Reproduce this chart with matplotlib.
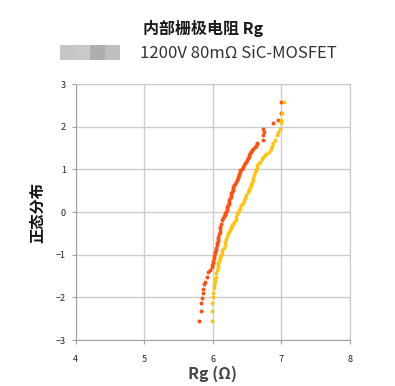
import matplotlib
matplotlib.use("Agg")
import matplotlib.pyplot as plt
from matplotlib.patches import Rectangle

plt.rcParams['font.family'] = ['Noto Sans CJK SC', 'DejaVu Sans']

# 正态概率图数据
orange_x = [5.80, 5.83, 5.83, 5.84, 5.85, 5.86, 5.87, 5.89, 5.91, 5.93, 5.96,
            5.98, 5.99, 6.00, 6.005, 6.01, 6.02, 6.03, 6.035, 6.04, 6.05, 6.06, 6.065,
            6.07, 6.075, 6.08, 6.09, 6.10, 6.105, 6.11, 6.125, 6.14, 6.15, 6.16, 6.17,
            6.18, 6.19, 6.20, 6.205, 6.21, 6.22, 6.23, 6.235, 6.24, 6.25, 6.26, 6.265,
            6.27, 6.28, 6.29, 6.295, 6.30, 6.31, 6.32, 6.335, 6.35, 6.36, 6.37, 6.375,
            6.38, 6.39, 6.40, 6.42, 6.44, 6.455, 6.47, 6.485, 6.50, 6.51, 6.52, 6.53,
            6.54, 6.555, 6.57, 6.59, 6.61, 6.625, 6.64, 6.65,
            6.73, 6.73, 6.74, 6.73, 6.87, 6.95, 6.99, 6.99]
orange_y = [-2.55, -2.32, -2.14, -2.02, -1.90, -1.81, -1.69, -1.63, -1.52, -1.40, -1.36,
            -1.28, -1.24, -1.20, -1.14, -1.08, -1.02, -0.97, -0.93, -0.89, -0.84, -0.78, -0.73,
            -0.68, -0.63, -0.58, -0.52, -0.46, -0.40, -0.34, -0.27, -0.19, -0.14, -0.10, -0.06,
            -0.03, 0.01, 0.05, 0.09, 0.12, 0.16, 0.20, 0.24, 0.28, 0.32, 0.36, 0.40,
            0.44, 0.48, 0.52, 0.55, 0.59, 0.63, 0.67, 0.71, 0.75, 0.79, 0.83, 0.87,
            0.90, 0.94, 0.98, 1.02, 1.06, 1.10, 1.14, 1.18, 1.22, 1.26, 1.30, 1.34,
            1.38, 1.42, 1.45, 1.49, 1.53, 1.56, 1.59, 1.62,
            1.70, 1.80, 1.88, 1.96, 2.08, 2.17, 2.33, 2.58]

yellow_x = [5.99, 5.99, 5.99, 6.00, 6.00, 6.01, 6.02, 6.03, 6.035, 6.04, 6.05, 6.06,
            6.07, 6.075, 6.08, 6.09, 6.10, 6.11, 6.12, 6.13, 6.14, 6.155, 6.17, 6.18,
            6.19, 6.205, 6.22, 6.235, 6.25, 6.26, 6.27, 6.285, 6.30, 6.315, 6.33, 6.34,
            6.35, 6.365, 6.38, 6.395, 6.41, 6.435, 6.46, 6.475, 6.49, 6.505, 6.52, 6.53,
            6.54, 6.55, 6.56, 6.57, 6.58, 6.59, 6.60, 6.615, 6.63, 6.64, 6.65, 6.67,
            6.69, 6.71, 6.73, 6.755, 6.78, 6.82, 6.85, 6.865, 6.88, 6.91, 6.94, 6.95,
            6.98, 6.99, 7.00, 7.01, 7.04]
yellow_y = [-2.55, -2.32, -2.14, -1.98, -1.90, -1.79, -1.70, -1.63, -1.57, -1.51, -1.43, -1.36,
            -1.28, -1.24, -1.20, -1.15, -1.10, -1.05, -1.01, -0.95, -0.89, -0.83, -0.77, -0.70,
            -0.62, -0.56, -0.50, -0.46, -0.42, -0.38, -0.34, -0.30, -0.27, -0.23, -0.19, -0.12,
            -0.05, 0.00, 0.05, 0.10, 0.16, 0.22, 0.28, 0.34, 0.40, 0.46, 0.52, 0.55,
            0.59, 0.63, 0.67, 0.71, 0.75, 0.81, 0.87, 0.93, 0.98, 1.04, 1.10, 1.14,
            1.18, 1.24, 1.30, 1.34, 1.37, 1.41, 1.49, 1.55, 1.61, 1.70, 1.80, 1.88,
            1.96, 2.08, 2.17, 2.33, 2.58]

x_ticks = [4, 5, 6, 7, 8]
y_ticks = [-3, -2, -1, 0, 1, 2, 3]

fig = plt.figure(figsize=(3.95, 3.86), dpi=100)
ax = fig.add_axes([0.192, 0.119, 0.694, 0.663])

ax.scatter(orange_x, orange_y, s=8, color='#ff5010', linewidths=0, zorder=3)
ax.scatter(yellow_x, yellow_y, s=8, color='#ffc40c', linewidths=0, zorder=3)

ax.set_xlim(4, 8)
ax.set_ylim(-3, 3)
ax.set_xticks(x_ticks)
ax.set_yticks(y_ticks)
ax.grid(True, color='#cccccc', linewidth=1)
ax.set_axisbelow(True)
for s in ax.spines.values():
    s.set_color('#c8c8c8')
ax.spines['left'].set_color('#a0a0a0')
ax.spines['bottom'].set_color('#a0a0a0')
ax.tick_params(axis='both', length=3, color='#a0a0a0', labelsize=6.5,
               labelcolor='#222222')
ax.tick_params(axis='x', pad=8)
ax.tick_params(axis='y', pad=4)

ax.set_xlabel('Rg (Ω)', fontsize=11.5, fontweight='bold', color='#444444', labelpad=1)
ax.set_ylabel('正态分布', fontsize=11, fontweight='bold', color='#111111', labelpad=8)

fig.text(0.515, 0.925, '内部栅极电阻 Rg', ha='center', va='center',
         fontsize=11.5, fontweight='bold', color='#1a1a1a')
fig.text(0.355, 0.862, '1200V 80mΩ SiC-MOSFET', ha='left', va='center',
         fontsize=12, color='#333333')

# 打码的标志
block_colors = ['#c6c6c6', '#c9c9c9', '#aeaeae', '#bfbfbf']
for i, c in enumerate(block_colors):
    fig.patches.append(Rectangle(((60 + 15 * i) / 395, 1 - 60 / 386), 15 / 395, 15 / 386,
                                 transform=fig.transFigure, color=c, linewidth=0))

fig.savefig('out.png', dpi=100)
